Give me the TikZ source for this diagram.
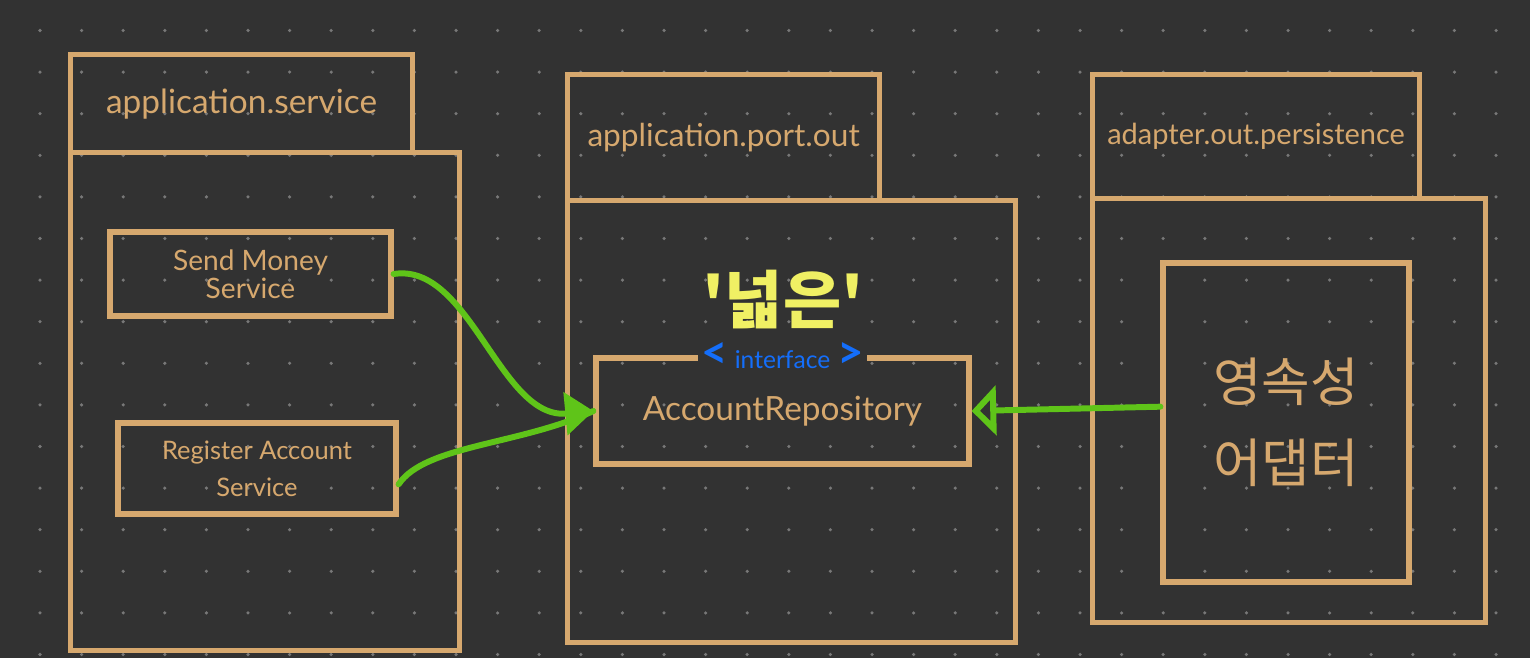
\documentclass[tikz,border=0pt]{standalone}
\usepackage{fontspec}
\setmainfont{Lato}
\newfontfamily\krfont{Noto Sans CJK KR}
\usetikzlibrary{arrows.meta, positioning}
\definecolor{boardbg}{RGB}{50,50,50}
\definecolor{boarddot}{RGB}{120,120,120}
\definecolor{pkgtan}{RGB}{214,168,110}
\definecolor{linkgreen}{RGB}{95,196,25}
\definecolor{ifblue}{RGB}{20,110,250}
\definecolor{noteyellow}{RGB}{240,240,100}

\begin{document}
\begin{tikzpicture}[x=0.02cm, y=-0.02cm,
  pkg/.style={draw=pkgtan, line width=3pt, anchor=north west, inner sep=0pt, text=pkgtan},
  cls/.style={draw=pkgtan, line width=3pt, text=pkgtan, align=center, inner sep=0pt},
  link/.style={draw=linkgreen, line width=3.4pt, line cap=round},
]
  % Board
  \fill[boardbg] (0,0) rectangle (1530,658);
  \useasboundingbox (0,0) rectangle (1530,658);
  \foreach \i in {0,...,35}
    \foreach \j in {0,...,15}
      \fill[boarddot] (40+41.6*\i, 30.5+41.6*\j) circle (1pt);

  % application.service
  \node[pkg, minimum width=7.78cm, minimum height=9.96cm] (srvbody) at (68,150) {};
  \node[pkg, minimum width=6.84cm, minimum height=1.96cm, font=\fontsize{19}{20}\selectfont] (srvtab) at (68,52) {application.service};
  \node[cls, minimum width=5.62cm, minimum height=1.68cm, font=\fontsize{16}{16}\selectfont] (sendsvc) at (250.5,274) {Send Money\\Service};
  \node[cls, minimum width=5.56cm, minimum height=1.82cm, font=\fontsize{14.5}{21}\selectfont] (regsvc) at (257,468.5) {Register Account\\Service};

  % application.port.out
  \node[pkg, minimum width=8.96cm, minimum height=8.84cm] (portbody) at (565,198) {};
  \node[pkg, minimum width=6.24cm, minimum height=2.52cm, font=\fontsize{18}{20}\selectfont] (porttab) at (565,72) {application.port.out};
  \node[cls, minimum width=7.46cm, minimum height=2.12cm, font=\fontsize{19}{20}\selectfont] (repo) at (782.5,411) {AccountRepository};
  \node[fill=boardbg, text=ifblue, inner xsep=2pt, inner ysep=1pt, font=\fontsize{14}{15}\selectfont] (iface) at (repo.north)
    {{\bfseries\fontsize{26}{20}\selectfont<}\;interface\;{\bfseries\fontsize{26}{20}\selectfont>}};
  \node[text=noteyellow, font=\krfont\bfseries\fontsize{36}{38}\selectfont] (wide) at (783,300) {'넓은'};

  % adapter.out.persistence
  \node[pkg, minimum width=7.86cm, minimum height=8.48cm] (perbody) at (1090,196) {};
  \node[pkg, minimum width=6.54cm, minimum height=2.48cm, font=\fontsize{16.5}{18}\selectfont] (pertab) at (1090,72) {adapter.out.persistence};
  \node[cls, minimum width=4.92cm, minimum height=6.38cm, font=\krfont\fontsize{30}{46}\selectfont] (adapter) at (1286,422.5) {영속성\\어댑터};

  % Links
  \draw[link, -{Triangle[length=16pt, width=24pt]}] (sendsvc.east) .. controls (470,262) and (500,420) .. (repo.west);
  \draw[link] ([yshift=-9pt]regsvc.east) .. controls (425,445) and (520,445) .. (repo.west);
  \draw[link, -{Triangle[open, length=14pt, width=28pt]}] ([yshift=9pt]adapter.west) -- (repo.east);
\end{tikzpicture}
\end{document}
